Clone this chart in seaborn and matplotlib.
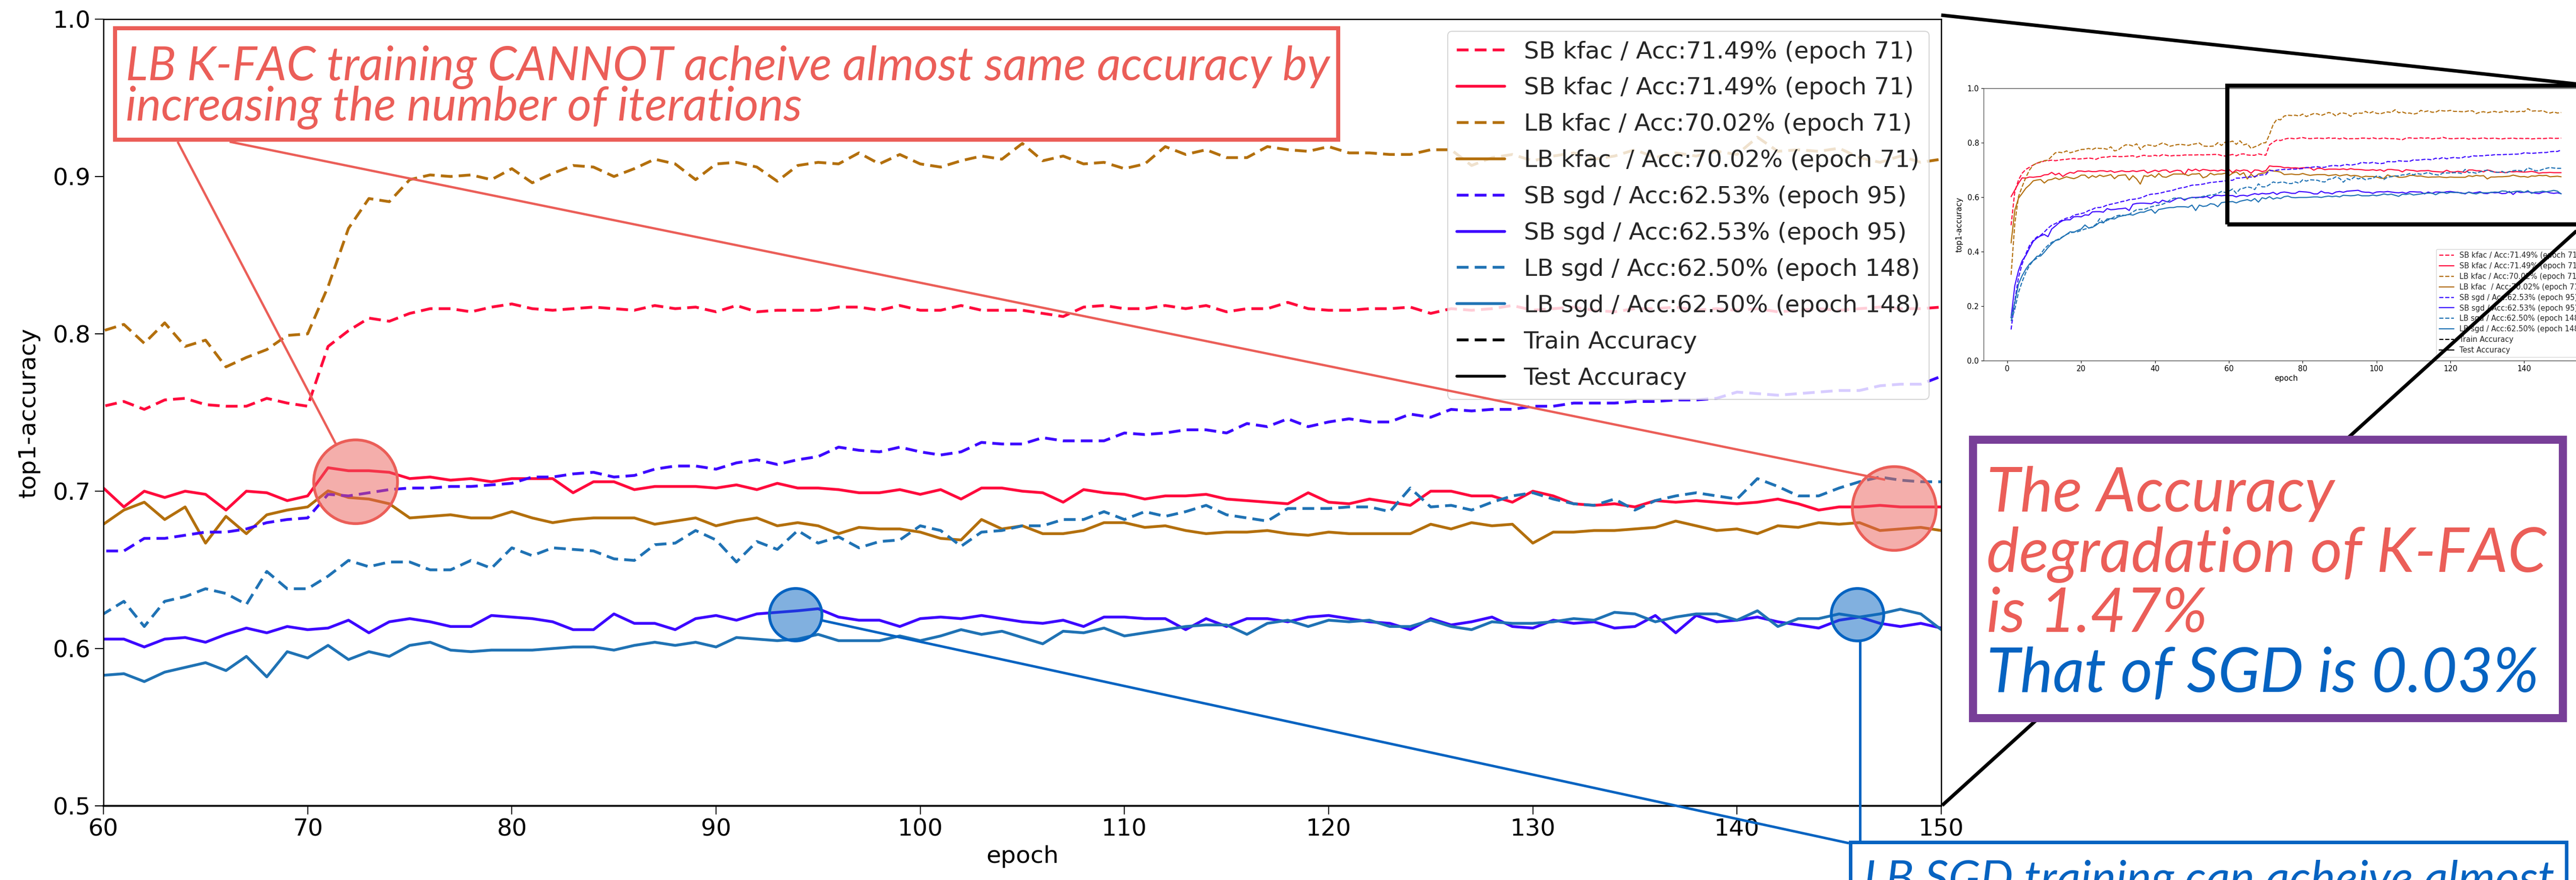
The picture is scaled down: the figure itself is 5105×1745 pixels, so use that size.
import numpy as np
import pandas as pd
import matplotlib
matplotlib.use("Agg")
import matplotlib.pyplot as plt
import seaborn as sns
from matplotlib.lines import Line2D
from matplotlib.patches import Rectangle, Ellipse
from matplotlib.colors import to_rgba
from matplotlib.ticker import FormatStrFormatter

# ---------------------------------------------------------------- data
epochs = list(range(1, 151))

sb_kfac_train = [
    0.497, 0.620, 0.663, 0.688, 0.702, 0.710, 0.718, 0.725, 0.728, 0.733,
    0.734, 0.736, 0.734, 0.736, 0.738, 0.739, 0.741, 0.742, 0.740, 0.741,
    0.742, 0.744, 0.742, 0.739, 0.745, 0.747, 0.747, 0.750, 0.750, 0.749,
    0.749, 0.750, 0.751, 0.752, 0.747, 0.751, 0.754, 0.751, 0.751, 0.754,
    0.750, 0.756, 0.754, 0.751, 0.753, 0.753, 0.753, 0.755, 0.755, 0.755,
    0.755, 0.756, 0.755, 0.756, 0.756, 0.757, 0.757, 0.753, 0.751,
    0.754, 0.757, 0.752, 0.758, 0.759, 0.755, 0.754, 0.754, 0.759, 0.756, 0.754,
    0.792, 0.802, 0.810, 0.808, 0.813, 0.816, 0.816, 0.814, 0.817, 0.819,
    0.816, 0.815, 0.816, 0.817, 0.816, 0.815, 0.818, 0.816, 0.817, 0.814,
    0.818, 0.814, 0.815, 0.815, 0.815, 0.817, 0.817, 0.815, 0.818, 0.815,
    0.815, 0.818, 0.815, 0.815, 0.815, 0.813, 0.811, 0.817, 0.818, 0.816,
    0.816, 0.818, 0.816, 0.818, 0.814, 0.816, 0.816, 0.820, 0.816, 0.815,
    0.815, 0.816, 0.816, 0.817, 0.813, 0.816, 0.815, 0.816, 0.818, 0.815,
    0.816, 0.817, 0.815, 0.814, 0.816, 0.816, 0.817, 0.815, 0.816, 0.815,
    0.816, 0.814, 0.815, 0.816, 0.815, 0.816, 0.817, 0.816, 0.816, 0.817,
]
sb_kfac_test = [
    0.602, 0.626, 0.651, 0.671, 0.670, 0.674, 0.673, 0.675, 0.676, 0.682,
    0.683, 0.691, 0.682, 0.688, 0.676, 0.685, 0.691, 0.688, 0.696, 0.696,
    0.694, 0.696, 0.694, 0.694, 0.697, 0.697, 0.694, 0.697, 0.691, 0.694,
    0.697, 0.694, 0.694, 0.697, 0.694, 0.697, 0.699, 0.689, 0.694, 0.699,
    0.694, 0.699, 0.700, 0.691, 0.696, 0.699, 0.697, 0.683, 0.703, 0.697,
    0.703, 0.696, 0.702, 0.700, 0.697, 0.699, 0.696, 0.700, 0.697,
    0.702, 0.690, 0.700, 0.696, 0.700, 0.698, 0.688, 0.700, 0.699, 0.694, 0.697,
    0.7149, 0.713, 0.713, 0.712, 0.708, 0.709, 0.707, 0.708, 0.706, 0.708,
    0.708, 0.708, 0.699, 0.706, 0.706, 0.701, 0.703, 0.703, 0.703, 0.702,
    0.704, 0.701, 0.705, 0.702, 0.702, 0.701, 0.699, 0.699, 0.701, 0.698,
    0.701, 0.695, 0.702, 0.702, 0.700, 0.699, 0.693, 0.701, 0.699, 0.698,
    0.695, 0.697, 0.697, 0.698, 0.695, 0.694, 0.693, 0.692, 0.699, 0.693,
    0.692, 0.695, 0.693, 0.691, 0.700, 0.700, 0.697, 0.697, 0.693, 0.700,
    0.697, 0.692, 0.691, 0.692, 0.690, 0.694, 0.693, 0.694, 0.693, 0.692,
    0.693, 0.695, 0.692, 0.688, 0.690, 0.690, 0.691, 0.690, 0.690, 0.690,
]
lb_kfac_train = [
    0.315, 0.503, 0.602, 0.639, 0.673, 0.700, 0.718, 0.725, 0.730, 0.734,
    0.736, 0.750, 0.763, 0.765, 0.763, 0.770, 0.763, 0.767, 0.771, 0.775,
    0.776, 0.779, 0.775, 0.781, 0.779, 0.779, 0.776, 0.785, 0.770, 0.773,
    0.784, 0.792, 0.792, 0.788, 0.796, 0.775, 0.788, 0.792, 0.790, 0.787,
    0.793, 0.799, 0.794, 0.787, 0.790, 0.793, 0.794, 0.792, 0.790, 0.794,
    0.796, 0.799, 0.788, 0.787, 0.787, 0.788, 0.800, 0.790, 0.802,
    0.802, 0.806, 0.794, 0.807, 0.792, 0.796, 0.779, 0.785, 0.790, 0.799, 0.800,
    0.830, 0.867, 0.886, 0.884, 0.898, 0.901, 0.900, 0.901, 0.898, 0.905,
    0.896, 0.902, 0.907, 0.906, 0.900, 0.905, 0.911, 0.908, 0.898, 0.908,
    0.909, 0.906, 0.897, 0.907, 0.909, 0.908, 0.915, 0.908, 0.914, 0.908,
    0.906, 0.910, 0.913, 0.911, 0.921, 0.910, 0.913, 0.908, 0.909, 0.905,
    0.908, 0.919, 0.914, 0.917, 0.912, 0.912, 0.919, 0.917, 0.916, 0.919,
    0.915, 0.915, 0.914, 0.914, 0.917, 0.917, 0.907, 0.912, 0.914, 0.910,
    0.913, 0.915, 0.911, 0.913, 0.917, 0.912, 0.915, 0.913, 0.916, 0.914,
    0.925, 0.916, 0.917, 0.916, 0.918, 0.912, 0.909, 0.913, 0.909, 0.911,
]
lb_kfac_test = [
    0.432, 0.552, 0.596, 0.614, 0.633, 0.645, 0.660, 0.663, 0.665, 0.652,
    0.663, 0.665, 0.671, 0.665, 0.670, 0.675, 0.671, 0.668, 0.673, 0.681,
    0.681, 0.670, 0.679, 0.673, 0.681, 0.676, 0.679, 0.683, 0.668, 0.679,
    0.681, 0.682, 0.663, 0.679, 0.667, 0.648, 0.679, 0.676, 0.682, 0.673,
    0.687, 0.675, 0.673, 0.679, 0.685, 0.685, 0.685, 0.685, 0.679, 0.685,
    0.685, 0.687, 0.671, 0.676, 0.688, 0.682, 0.685, 0.685, 0.688,
    0.679, 0.688, 0.693, 0.682, 0.690, 0.667, 0.684, 0.673, 0.685, 0.688, 0.690,
    0.7002, 0.696, 0.695, 0.692, 0.683, 0.684, 0.685, 0.683, 0.683, 0.687,
    0.683, 0.680, 0.682, 0.683, 0.683, 0.683, 0.679, 0.681, 0.683, 0.678,
    0.681, 0.683, 0.678, 0.680, 0.678, 0.673, 0.677, 0.676, 0.676, 0.674,
    0.670, 0.669, 0.682, 0.676, 0.678, 0.673, 0.673, 0.675, 0.680, 0.680,
    0.677, 0.678, 0.675, 0.673, 0.674, 0.674, 0.675, 0.673, 0.672, 0.674,
    0.673, 0.673, 0.673, 0.673, 0.679, 0.676, 0.680, 0.678, 0.679, 0.667,
    0.674, 0.674, 0.675, 0.675, 0.676, 0.677, 0.681, 0.678, 0.675, 0.676,
    0.673, 0.678, 0.677, 0.680, 0.679, 0.680, 0.675, 0.676, 0.677, 0.675,
]
sb_sgd_train = [
    0.114, 0.219, 0.305, 0.355, 0.392, 0.423, 0.441, 0.454, 0.460, 0.472,
    0.486, 0.497, 0.503, 0.510, 0.517, 0.523, 0.525, 0.534, 0.537, 0.540,
    0.543, 0.551, 0.555, 0.562, 0.562, 0.565, 0.571, 0.574, 0.577, 0.580,
    0.584, 0.586, 0.591, 0.592, 0.594, 0.597, 0.602, 0.608, 0.611, 0.612,
    0.614, 0.617, 0.621, 0.623, 0.626, 0.631, 0.634, 0.636, 0.640, 0.644,
    0.645, 0.646, 0.648, 0.651, 0.654, 0.655, 0.657, 0.658, 0.660,
    0.662, 0.662, 0.670, 0.670, 0.672, 0.674, 0.674, 0.676, 0.680, 0.682, 0.683,
    0.698, 0.697, 0.699, 0.701, 0.702, 0.702, 0.703, 0.703, 0.704, 0.705,
    0.709, 0.709, 0.711, 0.712, 0.709, 0.710, 0.714, 0.716, 0.716, 0.714,
    0.718, 0.720, 0.717, 0.720, 0.722, 0.728, 0.726, 0.725, 0.728, 0.725,
    0.723, 0.725, 0.731, 0.730, 0.730, 0.734, 0.732, 0.732, 0.732, 0.737,
    0.736, 0.737, 0.739, 0.739, 0.737, 0.743, 0.741, 0.746, 0.741, 0.744,
    0.746, 0.744, 0.744, 0.749, 0.747, 0.752, 0.751, 0.752, 0.752, 0.754,
    0.754, 0.756, 0.756, 0.756, 0.757, 0.757, 0.758, 0.758, 0.759, 0.763,
    0.762, 0.761, 0.762, 0.763, 0.764, 0.764, 0.767, 0.768, 0.768, 0.773,
]
sb_sgd_test = [
    0.157, 0.275, 0.330, 0.367, 0.386, 0.413, 0.438, 0.450, 0.458, 0.463,
    0.455, 0.483, 0.494, 0.506, 0.514, 0.517, 0.517, 0.528, 0.529, 0.528,
    0.535, 0.534, 0.546, 0.547, 0.547, 0.545, 0.558, 0.554, 0.555, 0.557,
    0.558, 0.560, 0.551, 0.574, 0.577, 0.578, 0.578, 0.577, 0.576, 0.583,
    0.578, 0.589, 0.584, 0.582, 0.589, 0.596, 0.597, 0.589, 0.596, 0.599,
    0.599, 0.600, 0.599, 0.603, 0.596, 0.605, 0.607, 0.605, 0.607,
    0.606, 0.606, 0.601, 0.606, 0.607, 0.604, 0.609, 0.613, 0.610, 0.614, 0.612,
    0.613, 0.618, 0.610, 0.617, 0.619, 0.617, 0.614, 0.614, 0.621, 0.620,
    0.619, 0.617, 0.612, 0.612, 0.622, 0.616, 0.616, 0.612, 0.619, 0.621,
    0.618, 0.622, 0.623, 0.624, 0.6253, 0.620, 0.618, 0.618, 0.614, 0.619,
    0.620, 0.619, 0.621, 0.619, 0.617, 0.616, 0.618, 0.614, 0.620, 0.620,
    0.619, 0.619, 0.612, 0.619, 0.614, 0.619, 0.619, 0.617, 0.620, 0.621,
    0.619, 0.617, 0.616, 0.612, 0.619, 0.615, 0.617, 0.620, 0.614, 0.613,
    0.618, 0.616, 0.617, 0.613, 0.614, 0.621, 0.610, 0.621, 0.617, 0.618,
    0.620, 0.617, 0.615, 0.613, 0.618, 0.620, 0.616, 0.614, 0.616, 0.613,
]
lb_sgd_train = [
    0.145, 0.188, 0.250, 0.290, 0.324, 0.349, 0.367, 0.376, 0.391, 0.410,
    0.423, 0.434, 0.441, 0.447, 0.455, 0.463, 0.469, 0.472, 0.473, 0.478,
    0.483, 0.486, 0.491, 0.500, 0.521, 0.506, 0.515, 0.520, 0.528, 0.533,
    0.534, 0.533, 0.537, 0.546, 0.554, 0.555, 0.555, 0.560, 0.565, 0.568,
    0.571, 0.574, 0.580, 0.589, 0.596, 0.597, 0.597, 0.592, 0.596, 0.599,
    0.597, 0.599, 0.603, 0.605, 0.608, 0.609, 0.614, 0.621, 0.617,
    0.622, 0.630, 0.614, 0.630, 0.633, 0.638, 0.635, 0.628, 0.649, 0.638, 0.638,
    0.646, 0.656, 0.652, 0.655, 0.655, 0.650, 0.650, 0.656, 0.651, 0.664,
    0.659, 0.664, 0.663, 0.662, 0.657, 0.656, 0.666, 0.667, 0.675, 0.669,
    0.655, 0.668, 0.663, 0.675, 0.667, 0.671, 0.664, 0.668, 0.669, 0.678,
    0.675, 0.665, 0.674, 0.675, 0.678, 0.678, 0.682, 0.682, 0.687, 0.682,
    0.687, 0.684, 0.687, 0.691, 0.685, 0.683, 0.681, 0.689, 0.689, 0.689,
    0.690, 0.690, 0.687, 0.702, 0.690, 0.691, 0.688, 0.693, 0.697, 0.699,
    0.695, 0.692, 0.691, 0.695, 0.688, 0.694, 0.697, 0.699, 0.697, 0.695,
    0.708, 0.703, 0.697, 0.697, 0.702, 0.706, 0.709, 0.707, 0.706, 0.706,
]
lb_sgd_test = [
    0.157, 0.213, 0.281, 0.312, 0.336, 0.355, 0.367, 0.383, 0.384, 0.398,
    0.415, 0.429, 0.441, 0.444, 0.454, 0.463, 0.473, 0.471, 0.478, 0.483,
    0.498, 0.487, 0.489, 0.497, 0.508, 0.506, 0.520, 0.521, 0.520, 0.528,
    0.531, 0.534, 0.537, 0.534, 0.540, 0.545, 0.545, 0.551, 0.555, 0.541,
    0.555, 0.557, 0.560, 0.562, 0.562, 0.565, 0.565, 0.565, 0.563, 0.571,
    0.551, 0.571, 0.566, 0.568, 0.576, 0.574, 0.565, 0.580, 0.582,
    0.583, 0.584, 0.579, 0.585, 0.588, 0.591, 0.586, 0.595, 0.582, 0.598, 0.594,
    0.602, 0.593, 0.598, 0.595, 0.602, 0.604, 0.599, 0.598, 0.599, 0.599,
    0.599, 0.600, 0.601, 0.601, 0.599, 0.602, 0.604, 0.602, 0.604, 0.601,
    0.607, 0.606, 0.605, 0.606, 0.609, 0.605, 0.605, 0.605, 0.608, 0.605,
    0.608, 0.612, 0.609, 0.611, 0.607, 0.603, 0.611, 0.610, 0.613, 0.608,
    0.610, 0.612, 0.614, 0.615, 0.615, 0.609, 0.616, 0.618, 0.614, 0.618,
    0.617, 0.618, 0.614, 0.614, 0.618, 0.614, 0.612, 0.617, 0.616, 0.616,
    0.617, 0.619, 0.618, 0.623, 0.622, 0.617, 0.620, 0.622, 0.622, 0.618,
    0.624, 0.614, 0.619, 0.619, 0.622, 0.620, 0.622, 0.6250, 0.622, 0.612,
]

runs = ["SB kfac", "LB kfac", "SB sgd", "LB sgd"]
train_curves = [sb_kfac_train, lb_kfac_train, sb_sgd_train, lb_sgd_train]
test_curves = [sb_kfac_test, lb_kfac_test, sb_sgd_test, lb_sgd_test]

legend_labels = [
    "SB kfac / Acc:71.49% (epoch 71)",
    "SB kfac / Acc:71.49% (epoch 71)",
    "LB kfac / Acc:70.02% (epoch 71)",
    "LB kfac  / Acc:70.02% (epoch 71)",
    "SB sgd / Acc:62.53% (epoch 95)",
    "SB sgd / Acc:62.53% (epoch 95)",
    "LB sgd / Acc:62.50% (epoch 148)",
    "LB sgd / Acc:62.50% (epoch 148)",
    "Train Accuracy",
    "Test Accuracy",
]

x_ticks = [60, 70, 80, 90, 100, 110, 120, 130, 140, 150]
y_ticks = [0.5, 0.6, 0.7, 0.8, 0.9, 1.0]
inset_x_ticks = [0, 20, 40, 60, 80, 100, 120, 140]
inset_y_ticks = [0.0, 0.2, 0.4, 0.6, 0.8, 1.0]

# highlighted points: (epoch, accuracy, radius px, colour key)
highlights = [
    (72.35, 0.706, 83, "red"),
    (147.7, 0.689, 83, "red"),
    (93.9, 0.6215, 52, "blue"),
    (145.9, 0.6215, 52, "blue"),
]

kfac_note = ["LB K-FAC training CANNOT acheive almost same accuracy by",
             "increasing the number of iterations"]
summary_red = ["The Accuracy", "degradation of K-FAC", "is 1.47%"]
summary_blue = "That of SGD is 0.03%"
sgd_note = "LB SGD training can acheive almost"

# ---------------------------------------------------------------- style
W, H, DPI = 5105, 1745, 100
RED = "#EB5E58"
BLUE = "#0563C1"
PURPLE = "#783F98"
palette = {"SB kfac": "#ff0a3c", "LB kfac": "#b36f0c",
           "SB sgd": "#3c06ff", "LB sgd": "#1f72b4"}
MAIN_LW = 4.0
TRAIN_DASH = (4.2, 2.2)

sns.set_style("ticks")
plt.rcParams["font.family"] = ["DejaVu Sans"]
plt.rcParams["axes.edgecolor"] = "black"
plt.rcParams["xtick.color"] = "black"
plt.rcParams["ytick.color"] = "black"
plt.rcParams["axes.labelcolor"] = "black"
CALLOUT_FONT = ["Lato", "DejaVu Sans"]

frames = []
for run, tr, te in zip(runs, train_curves, test_curves):
    frames.append(pd.DataFrame({"epoch": epochs, "acc": tr, "run": run, "split": "train"}))
    frames.append(pd.DataFrame({"epoch": epochs, "acc": te, "run": run, "split": "test"}))
df = pd.concat(frames, ignore_index=True)

fig = plt.figure(figsize=(W / DPI, H / DPI), dpi=DPI)
fig.patch.set_facecolor("white")


def fx(x):
    return x / W


def fy(y):
    return 1 - y / H


# ---------------------------------------------------------------- main axes
ax = fig.add_axes([fx(205), fy(1598), fx(3847) - fx(205), fy(38) - fy(1598)])
sns.lineplot(data=df, x="epoch", y="acc", hue="run", style="split",
             hue_order=runs, style_order=["train", "test"], palette=palette,
             dashes={"train": TRAIN_DASH, "test": ""}, estimator=None,
             sort=False, errorbar=None, linewidth=MAIN_LW, legend=False, ax=ax)
ax.set_xlim(60, 150)
ax.set_ylim(0.5, 1.0)
ax.set_xticks(x_ticks)
ax.set_yticks(y_ticks)
ax.yaxis.set_major_formatter(FormatStrFormatter("%.1f"))
ax.tick_params(labelsize=34, length=12, width=1.5, direction="out", pad=6)
ax.set_xlabel("epoch", fontsize=34, labelpad=6)
ax.set_ylabel("top1-accuracy", fontsize=34, labelpad=18)
for s in ax.spines.values():
    s.set_visible(True)
    s.set_color("black")
    s.set_linewidth(1.8)
ax.spines["bottom"].set_linewidth(2.6)
ax.set_facecolor("white")


def legend_handles(lw, dash):
    hs = []
    for run in runs:
        hs.append(Line2D([], [], color=palette[run], lw=lw, ls=(0, dash)))
        hs.append(Line2D([], [], color=palette[run], lw=lw, ls="-"))
    hs.append(Line2D([], [], color="black", lw=lw, ls=(0, dash)))
    hs.append(Line2D([], [], color="black", lw=lw, ls="-"))
    return hs


leg = ax.legend(legend_handles(MAIN_LW, TRAIN_DASH), legend_labels, loc="upper right",
                fontsize=34, frameon=True, framealpha=0.8, fancybox=True,
                borderaxespad=0.5, labelspacing=0.57, handlelength=2.0)
leg.get_frame().set_edgecolor("#cccccc")
leg.get_frame().set_linewidth(1.5)

# ---------------------------------------------------------------- overview inset
axi = fig.add_axes([fx(3931), fy(715), fx(5130) - fx(3931), fy(175) - fy(715)])
sns.lineplot(data=df, x="epoch", y="acc", hue="run", style="split",
             hue_order=runs, style_order=["train", "test"], palette=palette,
             dashes={"train": (3.7, 1.6), "test": ""}, estimator=None,
             sort=False, errorbar=None, linewidth=1.6, legend=False, ax=axi)
axi.set_xlim(-6.45, 157.45)
axi.set_ylim(0, 1.0)
axi.set_xticks(inset_x_ticks)
axi.set_yticks(inset_y_ticks)
axi.yaxis.set_major_formatter(FormatStrFormatter("%.1f"))
axi.tick_params(labelsize=10.5, length=3.5, width=0.8, pad=3)
axi.set_xlabel("epoch", fontsize=11, labelpad=3)
axi.set_ylabel("top1-accuracy", fontsize=11, labelpad=6)
for s in axi.spines.values():
    s.set_visible(True)
    s.set_color("#444444")
    s.set_linewidth(0.9)
legi = axi.legend(legend_handles(1.6, (3.7, 1.6)), legend_labels, loc="lower right",
                  fontsize=10.5, frameon=True, framealpha=0.8, fancybox=True,
                  labelspacing=0.4)
legi.get_frame().set_edgecolor("#cccccc")

# ---------------------------------------------------------------- zoom guides
fig.add_artist(Rectangle((fx(4414), fy(445)), fx(5130) - fx(4414), fy(170) - fy(445),
                         transform=fig.transFigure, fill=False, edgecolor="black",
                         lw=6, zorder=5))
fig.add_artist(Line2D([fx(3847), fx(5110)], [fy(30), fy(167)], transform=fig.transFigure,
                      color="black", lw=5, zorder=5, solid_capstyle="butt"))
fig.add_artist(Line2D([fx(3849), fx(5118)], [fy(1597), fy(447)], transform=fig.transFigure,
                      color="black", lw=5, zorder=5, solid_capstyle="butt"))


# ---------------------------------------------------------------- callouts
def data_px(x, y):
    dx, dy = ax.transData.transform((x, y))
    return dx, H - dy


def add_line(p0, p1, color, lw):
    fig.add_artist(Line2D([fx(p0[0]), fx(p1[0])], [fy(p0[1]), fy(p1[1])],
                          transform=fig.transFigure, color=color, lw=lw, zorder=6,
                          solid_capstyle="butt"))


def add_box(x0, y0, x1, y1, color, lw):
    fig.add_artist(Rectangle((fx(x0), fy(y1)), fx(x1) - fx(x0), fy(y0) - fy(y1),
                             transform=fig.transFigure, facecolor="white",
                             edgecolor=color, lw=lw, zorder=7))


colour_of = {"red": RED, "blue": BLUE}
centres = []
for ep, acc, r, key in highlights:
    cx, cy = data_px(ep, acc)
    centres.append((cx, cy, r))


def edge_point(c, target):
    cx, cy, r = c
    d = np.array(target, float) - np.array([cx, cy])
    d /= np.hypot(*d)
    return cx + r * d[0], cy + r * d[1]


# K-FAC callout
add_line((352, 281), edge_point(centres[0], (352, 281)), RED, 3.3)
add_line((455, 281), (centres[1][0] - 18, centres[1][1] - 57), RED, 3.3)
add_box(228, 56, 2652, 277, RED, 5.8)

# SGD callout
add_line(edge_point(centres[2], (3664, 1672)), (3664, 1672), BLUE, 3.6)
add_line((centres[3][0] + 5, centres[3][1] + centres[3][2]), (centres[3][0] + 5, 1670), BLUE, 3.6)
add_box(3667, 1670, 5086, 1900, BLUE, 5.0)

for (cx, cy, r), (_, _, _, key) in zip(centres, highlights):
    col = colour_of[key]
    fig.add_artist(Ellipse((fx(cx), fy(cy)), 2 * r / W, 2 * r / H,
                           transform=fig.transFigure, facecolor=to_rgba(col, 0.5),
                           edgecolor=col, lw=4, zorder=8))

# summary box
add_box(3910, 872, 5079, 1424, PURPLE, 11.5)

renderer = fig.canvas.get_renderer()


def callout_text(x, y, s, color, size, va="baseline"):
    return fig.text(fx(x), fy(y), s, color=color, fontsize=size, family=CALLOUT_FONT,
                    style="italic", ha="left", va=va, zorder=9)


def fit(t, target_w):
    w = t.get_window_extent(renderer).width
    t.set_fontsize(t.get_fontsize() * target_w / w)
    return t.get_fontsize()


t1 = callout_text(249, 159, kfac_note[0], RED, 60)
size = fit(t1, 2388)
callout_text(249, 239, kfac_note[1], RED, size)

s_lines = []
for i, s in enumerate(summary_red):
    s_lines.append(callout_text(3937, 1014 + i * 119.5, s, RED, 80))
size2 = fit(s_lines[1], 1108)
for t in s_lines:
    t.set_fontsize(size2)
callout_text(3937, 1372, summary_blue, BLUE, size2)

t3 = callout_text(3693, 1705, sgd_note, BLUE, 60, va="top")
fit(t3, 1370)

fig.savefig("out.png", dpi=DPI, facecolor="white")
